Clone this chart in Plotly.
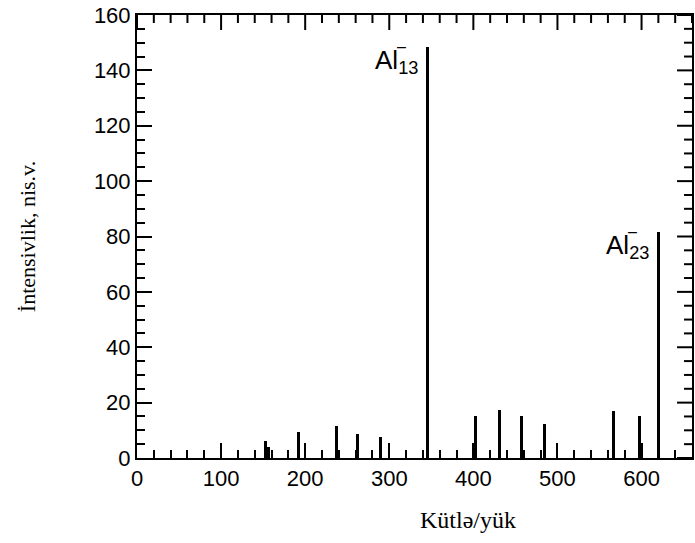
import plotly.graph_objects as go

# Aluminium cluster anion mass spectrum
mass_to_charge = [153, 156, 192, 237, 262, 290, 345, 402, 431, 457, 485, 567, 597, 620]
intensity = [6.0, 4.0, 9.3, 11.4, 8.7, 7.5, 148.5, 15.0, 17.4, 15.0, 12.3, 16.8, 15.0, 81.7]

peak_labels = ["Al<sub>13</sub>", "Al<sub>23</sub>"]
labelled_peaks = [345, 620]

x_major_ticks = [0, 100, 200, 300, 400, 500, 600]
y_major_ticks = [0, 20, 40, 60, 80, 100, 120, 140, 160]
x_minor_step = 20
y_minor_step = 5

x_range = [0, 660]
y_range = [0, 160]

WIDTH, HEIGHT = 695, 543
MARGIN = dict(l=137, r=1, t=15, b=85)
MAJOR_LEN, MINOR_LEN, TICK_W = 15, 8, 2

sans = "Liberation Sans, Arial, sans-serif"
serif = "Liberation Serif, Times New Roman, serif"

fig = go.Figure()
fig.add_trace(go.Bar(
    x=mass_to_charge,
    y=intensity,
    width=3.6,
    marker=dict(color="black", line=dict(width=0)),
    showlegend=False,
))

# tick marks along the top and right edges of the frame, as one line trace
px_per_x = (WIDTH - MARGIN["l"] - MARGIN["r"]) / (x_range[1] - x_range[0])
px_per_y = (HEIGHT - MARGIN["t"] - MARGIN["b"]) / (y_range[1] - y_range[0])
frame_x, frame_y = [], []
for xv in range(x_range[0], x_range[1] + 1, x_minor_step):
    length = (MAJOR_LEN if xv in x_major_ticks else MINOR_LEN) / px_per_y
    frame_x += [xv, xv, None]
    frame_y += [y_range[1], y_range[1] - length, None]
for yv in range(y_range[0], y_range[1] + 1, y_minor_step):
    length = (MAJOR_LEN if yv in y_major_ticks else MINOR_LEN) / px_per_x
    frame_x += [x_range[1], x_range[1] - length, None]
    frame_y += [yv, yv, None]
fig.add_trace(go.Scatter(x=frame_x, y=frame_y, mode="lines",
                         line=dict(color="black", width=TICK_W),
                         showlegend=False, hoverinfo="skip"))

tick_style = dict(ticks="inside", ticklen=MAJOR_LEN, tickwidth=TICK_W, tickcolor="black",
                  showgrid=False, zeroline=False,
                  showline=True, linecolor="black", linewidth=2, mirror=True)
tickfont = dict(family=sans, size=22, color="black")

fig.update_layout(
    xaxis=dict(range=x_range, tickvals=x_major_ticks, tickfont=tickfont,
               minor=dict(tickmode="linear", tick0=0, dtick=x_minor_step, ticks="inside",
                          ticklen=MINOR_LEN, tickwidth=TICK_W, tickcolor="black"),
               **tick_style),
    yaxis=dict(range=y_range, tickvals=y_major_ticks, tickfont=tickfont,
               minor=dict(tickmode="linear", tick0=0, dtick=y_minor_step, ticks="inside",
                          ticklen=MINOR_LEN, tickwidth=TICK_W, tickcolor="black"),
               title=dict(text="İntensivlik, nis.v.",
                          font=dict(family=serif, size=22, color="black"), standoff=52),
               **tick_style),
)

# cluster labels with the charge sign placed above the subscript
for text, xpos in zip(peak_labels, labelled_peaks):
    ypos = intensity[mass_to_charge.index(xpos)]
    fig.add_annotation(x=xpos, y=ypos, xref="x", yref="y", text=text, showarrow=False,
                       xanchor="right", yanchor="top", xshift=-7, yshift=4,
                       font=dict(family=sans, size=26, color="black"))
    fig.add_annotation(x=xpos, y=ypos, xref="x", yref="y", text="–", showarrow=False,
                       xanchor="right", yanchor="bottom", xshift=-19, yshift=-10,
                       font=dict(family=sans, size=16, color="black"))

fig.add_annotation(x=0.597, y=-0.14, xref="paper", yref="paper", text="Kütlə/yük",
                   showarrow=False, xanchor="center", yanchor="middle",
                   font=dict(family=serif, size=24, color="black"))

fig.update_layout(
    width=WIDTH, height=HEIGHT,
    margin=MARGIN,
    plot_bgcolor="white", paper_bgcolor="white",
    barmode="overlay", bargap=0,
)

fig.write_html("out.html")
